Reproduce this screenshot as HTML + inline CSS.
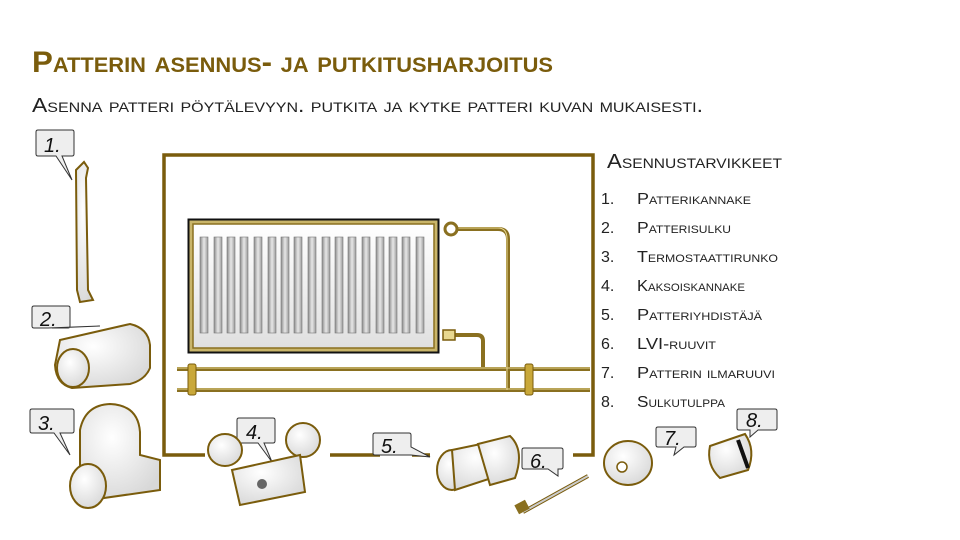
<!DOCTYPE html>
<html><head><meta charset="utf-8"><style>
html,body{margin:0;padding:0;background:#fff;}
svg{display:block;}
text{font-family:"Liberation Sans",sans-serif;font-variant:small-caps;}
</style></head><body>
<svg width="960" height="540" viewBox="0 0 960 540" xmlns="http://www.w3.org/2000/svg">
<defs>
<linearGradient id="fin" x1="0" x2="1"><stop offset="0" stop-color="#8c8c8c"/><stop offset="0.5" stop-color="#e8e8e8"/><stop offset="1" stop-color="#9a9a9a"/></linearGradient>
<linearGradient id="pnl" x1="0" y1="0" x2="0" y2="1"><stop offset="0" stop-color="#fff"/><stop offset="1" stop-color="#e0e0e0"/></linearGradient>
<radialGradient id="part" cx="0.4" cy="0.35" r="0.7"><stop offset="0" stop-color="#fff"/><stop offset="1" stop-color="#d8d8d8"/></radialGradient>
</defs>

<text x="32" y="72" font-size="30" font-weight="bold" fill="#7a5c0c" textLength="521" lengthAdjust="spacingAndGlyphs">Patterin asennus- ja putkitusharjoitus</text>
<text x="32" y="112" font-size="20" fill="#222" textLength="671" lengthAdjust="spacingAndGlyphs">Asenna patteri pöytälevyyn. putkita ja kytke patteri kuvan mukaisesti.</text>

<!-- frame -->
<path d="M205 455 H164 V155 H593 V455 H573" fill="none" stroke="#7a5c0c" stroke-width="3.5"/>
<line x1="330" y1="455" x2="380" y2="455" stroke="#7a5c0c" stroke-width="3.5"/>
<line x1="412" y1="455" x2="430" y2="455" stroke="#7a5c0c" stroke-width="3.5"/>

<!-- radiator -->
<rect x="188.5" y="219.5" width="250" height="133" fill="#c9b56a" stroke="#111" stroke-width="2"/>
<rect x="193" y="224" width="241" height="124" fill="url(#pnl)" stroke="#8a7020" stroke-width="1.5"/>
<g fill="url(#fin)" stroke="#777" stroke-width="0.6">
<rect x="200" y="237" width="8" height="96"/><rect x="214" y="237" width="8" height="96"/><rect x="227" y="237" width="8" height="96"/><rect x="240" y="237" width="8" height="96"/><rect x="254" y="237" width="8" height="96"/><rect x="268" y="237" width="8" height="96"/><rect x="281" y="237" width="8" height="96"/><rect x="294" y="237" width="8" height="96"/><rect x="308" y="237" width="8" height="96"/><rect x="322" y="237" width="8" height="96"/><rect x="335" y="237" width="8" height="96"/><rect x="348" y="237" width="8" height="96"/><rect x="362" y="237" width="8" height="96"/><rect x="376" y="237" width="8" height="96"/><rect x="389" y="237" width="8" height="96"/><rect x="402" y="237" width="8" height="96"/><rect x="416" y="237" width="8" height="96"/>
</g>

<!-- pipes -->
<g fill="none" stroke="#8a7020" stroke-width="4">
<path d="M451 229 H498 Q508 229 508 239 V390"/>
<path d="M450 335 H477 Q483 335 483 341 V369"/>
<line x1="177" y1="369" x2="590" y2="369"/>
<line x1="177" y1="390" x2="590" y2="390"/>
</g>
<g fill="none" stroke="#e8d890" stroke-width="1">
<path d="M451 228 H498 Q507 228 507 239 V390"/>
<line x1="177" y1="368" x2="590" y2="368"/>
<line x1="177" y1="389" x2="590" y2="389"/>
</g>
<circle cx="451" cy="229" r="6" fill="#fff" stroke="#8a7020" stroke-width="3"/>
<rect x="443" y="330" width="12" height="10" fill="#e8d890" stroke="#7a5c0c" stroke-width="1.5"/>
<g fill="#c9a83a" stroke="#7a5c0c" stroke-width="1">
<rect x="188" y="364" width="8" height="31" rx="2"/><rect x="525" y="364" width="8" height="31" rx="2"/>
</g>

<!-- callouts -->
<g fill="#eeeeee" stroke="#333" stroke-width="1">
<path d="M38 130 H72 Q74 130 74 132 V154 Q74 156 72 156 H62 L72 180 L56 156 H38 Q36 156 36 154 V132 Q36 130 38 130Z"/>
<path d="M34 306 H68 Q70 306 70 308 V326 Q70 328 68 328 H52 L100 326 L48 328 H34 Q32 328 32 326 V308 Q32 306 34 306Z"/>
<path d="M32 409 H72 Q74 409 74 411 V431 Q74 433 72 433 H60 L70 455 L54 433 H32 Q30 433 30 431 V411 Q30 409 32 409Z"/>
<path d="M239 418 H273 Q275 418 275 420 V441 Q275 443 273 443 H264 L272 462 L258 443 H239 Q237 443 237 441 V420 Q237 418 239 418Z"/>
<path d="M375 433 H409 Q411 433 411 435 V447 L430 457 L411 455 H375 Q373 455 373 453 V435 Q373 433 375 433Z"/>
<path d="M524 448 H561 Q563 448 563 450 V467 Q563 469 561 469 H558 L558 476 L548 469 H524 Q522 469 522 467 V450 Q522 448 524 448Z"/>
<path d="M658 427 H694 Q696 427 696 429 V445 Q696 447 694 447 H684 L674 455 L676 447 H658 Q656 447 656 445 V429 Q656 427 658 427Z"/>
<path d="M739 409 H775 Q777 409 777 411 V428 Q777 430 775 430 H758 L750 437 L750 430 H739 Q737 430 737 428 V411 Q737 409 739 409Z"/>
</g>
<g font-size="20" fill="#111" style="font-variant:normal;font-style:italic">
<text x="44" y="152">1.</text><text x="40" y="326">2.</text><text x="38" y="430">3.</text><text x="246" y="439">4.</text><text x="381" y="453">5.</text><text x="530" y="468">6.</text><text x="664" y="445">7.</text><text x="746" y="427">8.</text>
</g>

<!-- parts -->
<g stroke="#7a5c0c" stroke-width="2" fill="url(#part)">
<!-- 1 bracket -->
<path d="M76 170 L84 162 L88 168 L86 178 L88 290 L93 300 L80 302 L77 290Z"/>
<!-- 2 valve -->
<path d="M60 340 L130 324 Q148 328 150 345 L150 368 Q145 380 130 384 L72 388 Q56 384 55 365Z"/>
<ellipse cx="73" cy="368" rx="16" ry="19"/>
<!-- 3 thermostat -->
<path d="M80 430 Q85 405 110 404 Q138 405 140 432 L140 455 L160 460 L160 490 L90 500 L80 470Z"/>
<ellipse cx="88" cy="486" rx="18" ry="22"/>
<!-- 4 double bracket -->
<ellipse cx="225" cy="450" rx="17" ry="16"/><ellipse cx="303" cy="440" rx="17" ry="17"/>
<path d="M232 470 L300 455 L305 492 L240 505Z"/>
<!-- 5 connector -->
<ellipse cx="452" cy="470" rx="15" ry="20"/>
<path d="M452 450 L500 440 L510 472 L455 490Z"/>
<path d="M478 444 L510 436 Q525 450 515 478 L490 485Z"/>
<!-- 7 -->
<ellipse cx="628" cy="463" rx="24" ry="22"/>
<!-- 8 -->
<path d="M710 446 L745 434 Q756 450 748 470 L720 478 Q706 465 710 446Z"/>
</g>
<line x1="523" y1="512" x2="588" y2="476" stroke="#7a5c0c" stroke-width="4"/>
<line x1="523" y1="512" x2="588" y2="476" stroke="#ccc" stroke-width="2"/>
<rect x="516" y="502" width="12" height="10" fill="#8a7020" transform="rotate(-28 522 507)"/>
<circle cx="622" cy="467" r="5" fill="#fff" stroke="#7a5c0c" stroke-width="1.5"/>
<circle cx="305" cy="477" r="0" />
<circle cx="262" cy="484" r="5" fill="#666"/>
<line x1="738" y1="440" x2="748" y2="468" stroke="#111" stroke-width="4"/>

<!-- list -->
<text x="607" y="168" font-size="20" fill="#222" textLength="175" lengthAdjust="spacingAndGlyphs">Asennustarvikkeet</text>
<g font-size="16" fill="#222">
<text x="601" y="204">1.</text><text x="637" y="204" textLength="114" lengthAdjust="spacingAndGlyphs">Patterikannake</text>
<text x="601" y="233">2.</text><text x="637" y="233" textLength="94" lengthAdjust="spacingAndGlyphs">Patterisulku</text>
<text x="601" y="262">3.</text><text x="637" y="262" textLength="141" lengthAdjust="spacingAndGlyphs">Termostaattirunko</text>
<text x="601" y="291">4.</text><text x="637" y="291" textLength="108" lengthAdjust="spacingAndGlyphs">Kaksoiskannake</text>
<text x="601" y="320">5.</text><text x="637" y="320" textLength="125" lengthAdjust="spacingAndGlyphs">Patteriyhdistäjä</text>
<text x="601" y="349">6.</text><text x="637" y="349" textLength="79" lengthAdjust="spacingAndGlyphs">LVI-ruuvit</text>
<text x="601" y="378">7.</text><text x="637" y="378" textLength="138" lengthAdjust="spacingAndGlyphs">Patterin ilmaruuvi</text>
<text x="601" y="407">8.</text><text x="637" y="407" textLength="88" lengthAdjust="spacingAndGlyphs">Sulkutulppa</text>
</g>
</svg>
</body></html>
